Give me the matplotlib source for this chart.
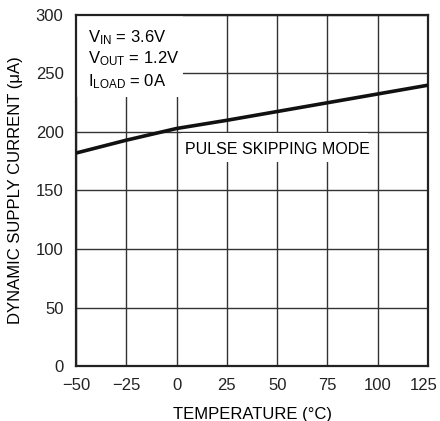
import matplotlib
matplotlib.use('Agg')
import matplotlib.pyplot as plt
import matplotlib.transforms as mtransforms
from matplotlib.patches import Rectangle

# curve
temp = [-50, -25, 0, 25, 50, 75, 100, 125]
current = [182, 193, 203, 210, 217.5, 225, 232.5, 240]

xticks = [-50, -25, 0, 25, 50, 75, 100, 125]
xticklabels = ['\u221250', '\u221225', '0', '25', '50', '75', '100', '125']
yticks = [0, 50, 100, 150, 200, 250, 300]

plt.rcParams['font.family'] = ['Liberation Sans', 'DejaVu Sans']
plt.rcParams['mathtext.default'] = 'regular'

fig = plt.figure(figsize=(4.4, 4.21), dpi=100)
ax = fig.add_axes([76 / 440, 1 - 366 / 421, 352 / 440, 351 / 421])

ax.set_xlim(-50, 125)
ax.set_ylim(0, 300)
ax.set_xticks(xticks)
ax.set_xticklabels(xticklabels)
ax.set_yticks(yticks)
ax.tick_params(length=0, labelsize=12, colors='#222222')
ax.tick_params(axis='y', pad=9)
ax.tick_params(axis='x', pad=9)
ax.grid(True, color='#333333', lw=1)
ax.set_axisbelow(True)
for s in ax.spines.values():
    s.set_linewidth(1.6)
    s.set_color('#222222')

# nudge the last x label so it stays inside the figure
last = ax.get_xticklabels()[-1]
last.set_transform(last.get_transform() + mtransforms.ScaledTranslation(-4 / 100, 0, fig.dpi_scale_trans))

ax.plot(temp, current, color='#111111', lw=2.6, solid_capstyle='butt', zorder=3)

# white boxes behind the notes
ax.add_patch(Rectangle((-50, 230), 53, 70, facecolor='white', edgecolor='none', zorder=2))
ax.add_patch(Rectangle((2, 174), 93, 25, facecolor='white', edgecolor='none', zorder=2))

ax.text(0.035, 0.935, r'V$_{IN}$ = 3.6V', transform=ax.transAxes, fontsize=12, va='center', zorder=4)
ax.text(0.035, 0.875, r'V$_{OUT}$ = 1.2V', transform=ax.transAxes, fontsize=12, va='center', zorder=4)
ax.text(0.035, 0.81, r'I$_{LOAD}$ = 0A', transform=ax.transAxes, fontsize=12, va='center', zorder=4)
ax.text(4, 185, 'PULSE SKIPPING MODE', fontsize=11.5, va='center', zorder=4)

ax.set_xlabel('TEMPERATURE (\u00b0C)', fontsize=12, labelpad=10)
ax.set_ylabel('DYNAMIC SUPPLY CURRENT (\u03bcA)', fontsize=12, labelpad=9)

fig.savefig('out.png', dpi=100)
